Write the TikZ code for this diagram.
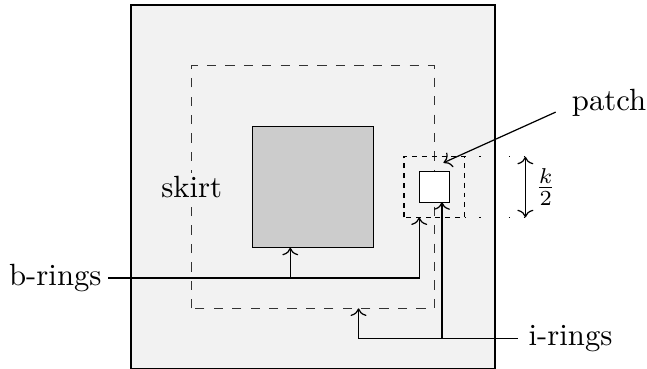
\documentclass[tikz,border=0pt]{standalone}
\usetikzlibrary{arrows.meta}
\begin{document}
\begin{tikzpicture}[x=9.88pt,y=9.88pt,
  region/.style={draw=black},
  bigdash/.style={draw=black!80, dashed},
  smalldash/.style={draw=black, dash pattern=on 1.6pt off 1.6pt},
  guide/.style={draw=black, dash pattern=on 0.4pt off 4.4pt},
  conn/.style={draw=black, ->},
  lbl/.style={inner sep=3pt}]
\useasboundingbox (-10.32,-5.97) rectangle (11.01,6.165);
% outer domain
\path[region, fill=gray!10] (-6,-6) rectangle (6,6);
% skirt boundary
\path[bigdash] (-4,-4) rectangle (4,4);
% core block
\path[region, fill=gray!40] (-2,-2) rectangle (2,2);
% patch window
\path[smalldash] (3,-1) rectangle (5,1);
\path[region, fill=white] (3.5,-0.5) rectangle (4.5,0.5);
% k/2 guides
\coordinate (gt) at (7,1);
\coordinate (gb) at (7,-1);
\coordinate (pt) at (5,1);
\coordinate (pb) at (5,-1);
\path[guide] (pt) -- (gt);
\path[guide] (pb) -- (gb);
\draw[<->] (gt) -- (gb) node[midway, right, lbl] (khalf) {$\frac{k}{2}$};
% labels
\node[fill=gray!10, inner sep=1pt] (skirt) at (-4,0) {skirt};
\node (patch) at (9.76,2.77) {patch};
\coordinate (pa) at (8,2.47);
\coordinate (ptip) at (4.3,0.8);
\draw[->] (pa) -- (ptip);
% b-rings
\coordinate (brl) at (-6.75,-3);
\node[left, inner sep=2pt] (brings) at (brl) {b-rings};
\coordinate (bc) at (3.5,-3);
\coordinate (bctip) at (3.5,-1);
\coordinate (bb) at (-0.75,-3);
\coordinate (bbtip) at (-0.75,-2);
\draw[->] (brl) -- (bc) -- (bctip);
\draw[->] (bb) -- (bbtip);
% i-rings
\coordinate (irl) at (6.75,-5);
\node[right] (irings) at (irl) {i-rings};
\coordinate (ic) at (1.5,-5);
\coordinate (ictip) at (1.5,-4);
\coordinate (ib) at (4.25,-5);
\coordinate (ibtip) at (4.25,-0.5);
\draw[->] (irl) -- (ic) -- (ictip);
\draw[->] (ib) -- (ibtip);
\end{tikzpicture}
\end{document}
